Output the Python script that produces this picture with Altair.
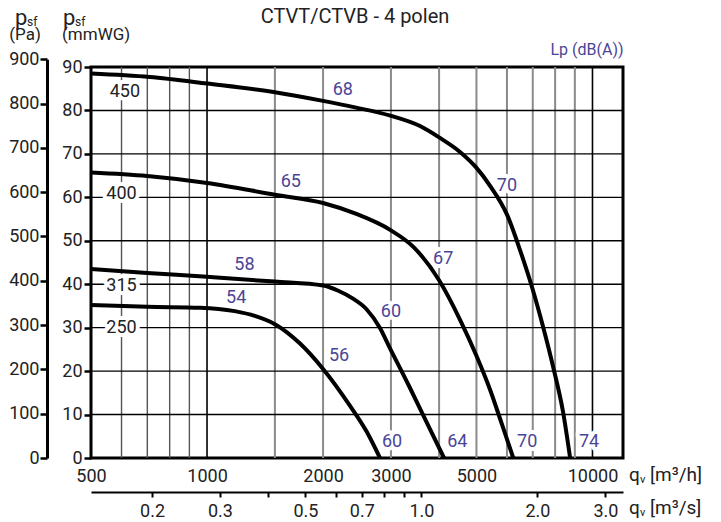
import altair as alt
import pandas as pd

# ---------------- data (q in m3/h, static pressure in mmWG) ----------------
q_250 = [500, 700, 960, 1180, 1330, 1500, 1740, 2000, 2350, 2590, 2810]
p_250 = [35.2, 34.8, 34.6, 33.8, 32.7, 30.8, 26.4, 20.5, 12.0, 6.2, 0.0]

q_315 = [500, 700, 1000, 1500, 2000, 2190, 2380, 2590, 2810, 2970, 3350, 3690, 4120]
p_315 = [43.5, 42.6, 41.7, 40.6, 39.7, 38.5, 36.8, 34.3, 29.9, 25.6, 16.4, 8.7, 0.0]

q_400 = [500, 700, 1000, 1500, 2000, 2420, 3000, 3430, 4000, 4540, 4990, 5430, 5830, 6230]
p_400 = [65.7, 64.9, 63.3, 60.6, 58.7, 56.3, 52.4, 48.6, 40.9, 31.7, 23.7, 15.6, 7.6, 0.0]

q_450 = [500, 710, 1000, 1500, 2000, 2420, 2990, 3570, 4000, 4540, 4990, 5430, 6010, 6490,
         6970, 7450, 7910, 8400, 8750]
p_450 = [88.5, 87.7, 86.2, 84.2, 82.2, 80.7, 78.8, 76.4, 73.8, 70.4, 66.9, 62.6, 55.9, 47.8,
         39.3, 30.1, 20.9, 10.3, 0.0]

size_names = ["450", "400", "315", "250"]
size_q = [612, 600, 600, 600]
size_p = [84.2, 60.8, 39.6, 30.0]

db_names = ["68", "65", "58", "54", "56", "60", "67", "70", "60", "64", "70", "74"]
db_q = [2250, 1650, 1250, 1190, 2200, 3000, 4100, 6000, 3020, 4460, 6770, 9800]
db_p = [84.6, 63.5, 44.5, 36.8, 23.4, 33.5, 45.7, 62.6, 3.6, 3.6, 3.6, 3.6]

vgrid_dark = [600, 700, 800, 900]
vgrid_black = [1000, 10000]
vgrid_gray = [1500, 2000, 3000, 4000, 5000, 6000, 7000, 8000, 9000]
hgrid = [10, 20, 30, 40, 50, 60, 70, 80]

qh_labels = [500, 1000, 2000, 3000, 5000, 10000]
mm_ticks = [0, 10, 20, 30, 40, 50, 60, 70, 80, 90]
pa_ticks = [0, 100, 200, 300, 400, 500, 600, 700, 800, 900]
qs_ticks = [0.2, 0.3, 0.4, 0.5, 0.6, 0.7, 0.8, 0.9, 1.0, 2.0, 3.0]
qs_labels = ["0.2", "0.3", "0.5", "0.7", "1.0", "2.0", "3.0"]

# ---------------- styling ----------------
W, H = 532, 391
FONT = "Roboto"
BLUE = "#4b4596"
TXT = "#222222"
MM_PER_PA = 1 / 9.80665
PX_PER_MM = H / 90.0

curves = pd.concat([
    pd.DataFrame({"q": q_250, "p": p_250, "size": "250"}),
    pd.DataFrame({"q": q_315, "p": p_315, "size": "315"}),
    pd.DataFrame({"q": q_400, "p": p_400, "size": "400"}),
    pd.DataFrame({"q": q_450, "p": p_450, "size": "450"}),
], ignore_index=True)
sizes = pd.DataFrame({"q": size_q, "p": size_p, "t": size_names})
dbs = pd.DataFrame({"q": db_q, "p": db_p, "t": db_names})

x_axis = alt.Axis(values=qh_labels, format="d", title=None, grid=False, domain=False,
                  ticks=False, labelPadding=9, labelFlush=False, labelOverlap=False,
                  labelFont=FONT, labelFontSize=18, labelColor=TXT)
y_axis = alt.Axis(values=mm_ticks, title=None, grid=False, domain=False, tickSize=7,
                  tickWidth=2.5, tickColor="black", labelPadding=2, labelFlush=False,
                  labelOverlap=False, labelFont=FONT, labelFontSize=18, labelColor=TXT)
xs = alt.Scale(type="log", domain=[500, 12000], nice=False)
ys = alt.Scale(domain=[0, 90], nice=False, zero=False)
X = alt.X("q:Q", scale=xs, axis=x_axis)
Y = alt.Y("p:Q", scale=ys, axis=y_axis)

def vrules(vals, color, width):
    return alt.Chart(pd.DataFrame({"q": vals})).mark_rule(color=color, strokeWidth=width).encode(x=X)

grid_d = vrules(vgrid_dark, "#555555", 1.4)
grid_g = vrules(vgrid_gray, "#8a8a8a", 2)
grid_b = vrules(vgrid_black, "#000000", 1.6)
grid_h = alt.Chart(pd.DataFrame({"p": hgrid})).mark_rule(color="black", strokeWidth=1.4).encode(y=Y)

halo_s = alt.Chart(sizes).mark_text(font=FONT, fontSize=18, color="white", stroke="white",
                                    strokeWidth=8, strokeJoin="round", baseline="middle").encode(x=X, y=Y, text="t:N")
halo_d = alt.Chart(dbs).mark_text(font=FONT, fontSize=18, color="white", stroke="white",
                                  strokeWidth=8, strokeJoin="round", baseline="middle").encode(x=X, y=Y, text="t:N")
lines = alt.Chart(curves).mark_line(color="black", strokeWidth=4, interpolate="monotone").encode(
    x=X, y=Y, detail="size:N", order="q:Q")
txt_s = alt.Chart(sizes).mark_text(font=FONT, fontSize=18, color=TXT, baseline="middle").encode(x=X, y=Y, text="t:N")
txt_d = alt.Chart(dbs).mark_text(font=FONT, fontSize=18, color=BLUE, baseline="middle").encode(x=X, y=Y, text="t:N")

one = pd.DataFrame({"a": [0]})

def note(text, x, y, size, color=TXT, align="left", baseline="alphabetic"):
    return alt.Chart(one).mark_text(text=text, font=FONT, fontSize=size, color=color, align=align,
                                    baseline=baseline).encode(x=alt.value(x), y=alt.value(y))

notes = [
    note("CTVT/CTVB - 4 polen", 264, -50, 20, align="center", baseline="middle"),
    note("p", -76, -42, 22), note("sf", -64, -41.5, 12), note("(Pa)", -66, -27.5, 17, align="center"),
    note("p", -28, -42, 22), note("sf", -16, -41.5, 12), note("(mmWG)", -29, -27.5, 17),
    note("Lp (dB(A))", 496, -17.5, 16, color=BLUE, align="center", baseline="middle"),
    note("q", 538, 413.5, 19), note("v", 549, 416, 11), note("[m³/h]", 559, 413.5, 19),
    note("q", 538, 446.5, 19), note("v", 549, 449, 11), note("[m³/s]", 559, 446.5, 19),
]

main = alt.layer(grid_d, grid_g, grid_b, grid_h, halo_s, halo_d, lines, txt_s, txt_d, *notes)

pa_axis = alt.Axis(orient="left", offset=44, values=pa_ticks, title=None, grid=False,
                   domain=True, domainWidth=3, domainColor="black", tickSize=7, tickWidth=2.5,
                   tickColor="black", labelPadding=1, labelFlush=False, labelOverlap=False,
                   labelFont=FONT, labelFontSize=18, labelColor=TXT)
pa_layer = alt.Chart(pd.DataFrame({"pa": [0]})).mark_point(opacity=0).encode(
    y=alt.Y("pa:Q", scale=alt.Scale(domain=[0, 900], nice=False,
                                     range=[H, H - 900 * MM_PER_PA * PX_PER_MM]), axis=pa_axis))

lbl_list = ",".join("'" + s + "'" for s in qs_labels)
qs_axis = alt.Axis(orient="bottom", offset=34, values=qs_ticks, title=None, grid=False,
                   labelExpr="indexof([" + lbl_list + "], format(datum.value, '.1f')) >= 0 ? format(datum.value, '.1f') : ''",
                   domain=True, domainWidth=2, domainColor="black", tickSize=5, tickWidth=2,
                   tickColor="black", labelPadding=5, labelFlush=False, labelOverlap=False,
                   labelFont=FONT, labelFontSize=18, labelColor=TXT)
qs_layer = alt.Chart(pd.DataFrame({"qs": [1.0]})).mark_point(opacity=0).encode(
    x=alt.X("qs:Q", scale=alt.Scale(type="log", domain=[500 / 3600, 12000 / 3600], nice=False), axis=qs_axis))

chart = alt.layer(main, pa_layer, qs_layer).resolve_scale(x="independent", y="independent").properties(
    width=W, height=H, autosize=alt.AutoSizeParams(type="none"),
    padding={"left": 83, "top": 59, "right": 88, "bottom": 62},
).configure_view(stroke="black", strokeWidth=3)

chart.save("out.html", embed_options={"renderer": "svg", "actions": False})
